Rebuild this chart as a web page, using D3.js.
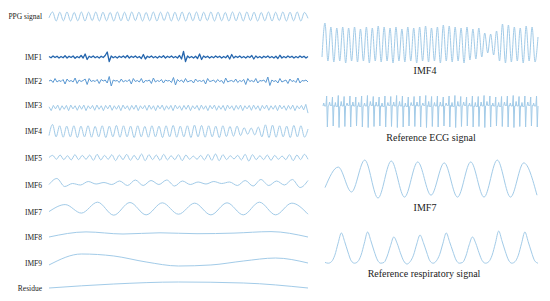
<!DOCTYPE html>
<html lang="en">
<head>
<meta charset="UTF-8">
<title>PPG decomposition and reference signals</title>
<script src="https://d3js.org/d3.v7.min.js"></script>
<style>
  body { margin: 0; background: #fff; }
  svg { display: block; }
  .lbl { font-family: "Liberation Serif", "Times New Roman", serif; fill: #222; }
</style>
</head>
<body>
<script>
  // ---- signal values (normalised units) ----
  const ppg = [-0.3, 1, -1, 0.95, -0.95, 1, -1, 0.9, -0.95, 1, -1, 0.95, -0.9, 1, -1, 0.95, -0.95, 0.9,
    -1, 1, -0.95, 0.95, -1, 1, -0.9, 0.95, -1, 0.9, -0.95, 1, -1, 0.95, -0.9, 1, -1, 0.95, -0.95, 1,
    -1, 0.9, -0.95, 1, -1, 0.95, -0.9, 1, -1, 0.95, -0.95, 0.9, -1, 1, -0.95, 0.95, -1, 1, -0.9, 0.95,
    -1, 0.9, -0.95, 1, -1, 0.95, -0.9, 1, -1, 0.95, -0.95, 1, -1, 0.9, -0.4];

  const imf1 = [0.1, -0.15, 0.2, -0.1, 0.15, -0.2, 0.1, -0.15, 0.25, -0.2,
    0.15, -0.1, 0.2, -0.25, 0.1, -0.15, 0.3, -0.2, 0.6, -0.5,
    0.15, -0.1, 0.2, -0.15, 0.1, -0.2, 0.15, -0.1, 0.3, 1.0,
    -0.9, 0.2, -0.15, 0.1, -0.2, 0.15, -0.1, 0.2, -0.15, 0.3,
    -0.2, 0.15, -0.1, 0.2, -0.15, 0.1, -0.3, 0.5, -0.4, 0.15,
    -0.1, 0.2, -0.15, 0.1, -0.2, 0.15, -0.1, 0.25, -0.2, 0.15,
    -0.1, 0.2, -0.15, 0.1, -0.2, 0.3, -0.4, 1.1, -0.9, 0.2,
    -0.15, 0.1, -0.2, 0.15, -0.3, 0.6, -0.5, 0.2, -0.1, 0.15,
    -0.2, 0.1, -0.15, 0.2, -0.1, 0.15, -0.2, 0.1, -0.15, 0.3,
    -0.4, 0.5, -0.2, 0.15, -0.1, 0.2, -0.15, 0.1, -0.2, 0.15,
    -0.1, 0.3, -0.4, 0.2, -0.15, 0.1, -0.2, 0.15, -0.1, 0.2,
    -0.15, 0.1, -0.2, 0.15, -0.3, 0.35, -0.2, 0.1, -0.15, 0.2,
    -0.1, 0.15, -0.2, 0.1, -0.15, 0.2, -0.1, 0.15, -0.2, 0.1];

  const imf2 = [0.0, 0.2, -0.3, 0.5, -0.2, 0.1, -0.1, 0.3, -0.6, 0.4,
    -0.1, 0.1, -0.2, 0.6, -0.5, 0.2, -0.1, 0.1, 0.4, -0.7,
    0.5, -0.1, 0.1, -0.1, 0.3, -0.5, 0.3, 0.0, 0.2, -0.4,
    0.9, -1.0, 0.2, 0.0, 0.1, -0.3, 0.4, -0.2, 0.1, -0.1,
    0.3, -0.6, 0.5, -0.1, 0.1, -0.2, 0.5, -0.4, 0.1, 0.0,
    0.2, -0.5, 0.6, -0.2, 0.1, -0.1, 0.3, -0.4, 0.2, 0.0,
    0.1, -0.3, 0.7, -0.8, 0.3, -0.1, 0.2, -0.3, 0.5, -0.2,
    0.0, 0.1, -0.4, 0.4, -0.1, 0.1, -0.1, 0.2, -0.6, 0.5,
    -0.1, 0.0, 0.2, -0.3, 0.3, -0.1, 0.1, -0.5, 0.6, -0.2,
    0.0, 0.1, -0.2, 0.4, -0.3, 0.1, -0.1, 0.3, -0.7, 0.5,
    -0.1, 0.1, -0.2, 0.5, -0.4, 0.1, 0.0, 0.2, -0.3, 0.8,
    -0.9, 0.2, -0.1, 0.1, -0.4, 0.5, -0.2, 0.0, 0.2, -0.5,
    0.4, -0.1, 0.1, -0.3, 0.6, -0.4, 0.1, 0.0, 0.2, -0.2];

  const imf3 = [0.2, -0.9, 0.6, -0.4, 0.7, -0.8, 0.5, -0.5, 0.6, -0.9, 0.7, -0.4, 0.5, -0.8, 0.6, -0.5, 0.7, -0.9, 0.5, -0.4,
    0.6, -0.8, 0.7, -0.5, 0.5, -0.9, 0.6, -0.4, 0.7, -0.8, 0.5, -0.5, 0.6, -0.9, 0.7, -0.4, 0.5, -0.8, 0.6, -0.5,
    0.7, -0.9, 0.5, -0.4, 0.6, -0.8, 0.7, -0.5, 0.5, -0.9, 0.6, -0.4, 0.7, -0.8, 0.5, -0.5, 0.6, -0.9, 0.7, -0.4,
    0.5, -0.8, 0.6, -0.5, 0.7, -0.9, 0.5, -0.4, 0.6, -0.8, 0.7, -0.5, 0.5, -0.9, 0.6, -0.4, 0.7, -0.8, 0.5, -0.5,
    0.6, -0.9, 0.7, -0.4, 0.5, -0.8, 0.6, -0.5, 0.7, -0.9, 0.5, -0.4, 0.6, -0.8, 0.7, -0.5, 0.5, -0.9, 0.6, -0.4,
    0.7, -0.8, 0.5, -0.5, 0.6, -0.9, 0.7, -0.4, 0.5, -0.8, 0.6, -0.5, 0.7, -0.9, 0.5, -0.4, 0.6, -0.7, 0.9, -1.6];

  const imf4 = [-0.7, 1.0, -0.9, 0.8, -0.95, 0.75, -0.9, 0.8, -1.0, 0.75,
    -0.9, 0.8, -0.95, 0.7, -0.9, 0.8, -1.0, 0.75, -0.9, 0.85,
    -0.95, 0.8, -0.9, 0.75, -1.0, 0.8, -0.9, 0.7, -0.95, 0.8,
    -0.9, 0.75, -1.0, 0.8, -0.9, 0.85, -0.95, 0.75, -0.9, 0.8,
    -1.0, 0.9, -0.9, 0.85, -0.95, 0.8, -0.9, 0.75, -1.0, 0.8,
    -0.85, 0.7, -0.8, 0.75, -0.7, 0.5, -0.5, 0.45, -0.6, 0.6,
    -0.9, 0.95, -1.0, 0.9, -0.95, 0.8, -0.9, 0.75, -1.0, 0.85,
    -0.9, 0.8, -0.95, 0.3];

  const imf5 = [0, 0.6, -0.5, 0.7, -0.6, 0.5, -0.7, 0.8, -0.6, 0.6, -0.5, 0.7, -0.8, 0.9, -0.7, 0.6, -0.5, 0.8,
    -0.9, 0.7, -0.6, 0.9, -0.8, 0.6, -0.7, 1.0, -0.9, 0.8, -0.6, 0.7, -0.8, 0.9, -0.7, 0.5, -0.6, 0.8,
    -0.9, 0.7, -0.5, 0.4, -0.5, 0.6, -0.7, 0.9, -0.8, 1.0, -0.9, 0.8, -0.6, 0.5, -0.4, 0.6, -0.7, 0.9,
    -1.0, 0.8, -0.6, 0.5, -0.6, 0.7, -0.8, 0.6, -0.5, 0.4, -0.6, 0.8, -0.9, 0.7, -0.6, 0.9, -0.5];

  const imf6 = [-0.3, 0.9, -0.7, -0.1, -0.4, 0.3, -0.2, 0.1, -0.3, 0.4, -0.5, 0.6, -0.5, 0.5, -0.3, 0.6, -0.6,
    0.4, -0.3, 0.2, -0.2, 0.3, -0.1, 0.2, -0.5, 0.5, -0.6, 0.7, -0.5, 0.4, -0.4, 0.7, -0.9, 0.5];

  const imf7 = [-0.4, 0.68, -0.63, 1.05, -0.95, 1.0, -0.9, 0.95, -0.8, 0.9, -0.9, 0.95, -0.9, 1.05, -0.9, 0.9, -0.8];

  const imf8 = [-1, 0.7, 0.0, 0.4, 0.1, 0.3, 0.8, -1];

  const imf9 = [-0.83, 1.0, 0.67, -0.33, -1.0, -0.83, -0.17, 0.33, -0.5];

  const residue = [-1, 0.33, 1, 0.67, -1];

  // reference ECG, one entry per beat: baseline level, T bump, R peak, S trough
  const ecgBase = [0.0, 0.05, -0.05, 0.0, 0.05, 0.0, -0.05, 0.0, 0.05, 0.0, -0.05, 0.05, 0.0, 0.0, -0.05, 0.05, 0.0,
    0.05, -0.05, 0.0, 0.0, 0.05, -0.05, 0.0, 0.05, 0.0, -0.05, 0.0, 0.05, 0.0, -0.05, 0.05, 0.0, 0.0, -0.05, 0.05, 0.0];
  const ecgT = [0.3, 0.4, 0.35, 0.45, 0.3, 0.4, 0.35, 0.3, 0.45, 0.4, 0.3, 0.35, 0.4, 0.45, 0.3, 0.35, 0.4, 0.3, 0.45,
    0.35, 0.4, 0.3, 0.35, 0.45, 0.4, 0.3, 0.35, 0.4, 0.45, 0.3, 0.35, 0.4, 0.3, 0.45, 0.35, 0.4, 0.3];
  const ecgR = [1.0, 0.9, 1.05, 0.95, 1.0, 0.9, 1.0, 1.05, 0.95, 0.9, 1.0, 0.95, 1.05, 1.0, 0.9, 0.95, 1.0, 1.05, 0.95,
    1.0, 0.9, 1.0, 1.05, 0.95, 0.9, 1.0, 0.95, 1.05, 1.0, 0.9, 0.95, 1.0, 1.05, 0.95, 1.0, 0.9, 1.0];
  const ecgS = [-2.1, -2.0, -2.15, -2.05, -2.1, -2.0, -2.1, -2.15, -2.05, -2.0, -2.1, -2.05, -2.15, -2.1, -2.0, -2.05,
    -2.1, -2.15, -2.05, -2.1, -2.0, -2.1, -2.15, -2.05, -2.0, -2.1, -2.05, -2.15, -2.1, -2.0, -2.05, -2.1, -2.15,
    -2.05, -2.1, -2.0, -2.1];

  const resp = [-0.9, -0.95, -0.85, -0.45, 0.3,
    0.94, 0.4, -0.25, -0.8, -0.95, -0.85, -0.45, 0.3,
    1.0, 0.45, -0.2, -0.75, -0.95, -0.9, -0.5, 0.15,
    0.69, 0.3, -0.3, -0.8, -1.0, -0.85, -0.45, 0.25,
    0.81, 0.35, -0.25, -0.8, -0.95, -0.8, -0.4, 0.3,
    0.94, 0.4, -0.2, -0.75, -0.95, -0.9, -0.5, 0.2,
    0.69, 0.3, -0.3, -0.8, -0.95, -0.85, -0.45, 0.3,
    1.06, 0.45, -0.2, -0.75, -0.95, -0.85, -0.45, 0.3,
    1.0, 0.4, -0.25, -0.8, -0.95];

  // ECG samples laid out beat by beat
  const ecg = d3.range(ecgR.length).flatMap(i =>
    [ecgBase[i], ecgT[i], ecgBase[i], ecgBase[i], ecgBase[i], ecgR[i], ecgS[i], ecgBase[i]]);

  // ---- layout ----
  const W = 550, H = 301;
  const light = '#a2cbe8';

  const svg = d3.select('body').append('svg')
    .attr('width', W)
    .attr('height', H);

  function drawSignal(values, x0, x1, yc, amp, color, width, curve) {
    const x = d3.scaleLinear().domain([0, values.length - 1]).range([x0, x1]);
    const y = d3.scaleLinear().domain([-1, 1]).range([yc + amp, yc - amp]);
    const line = d3.line()
      .x((d, i) => x(i))
      .y(d => y(d))
      .curve(curve);
    svg.append('path')
      .datum(values)
      .attr('d', line)
      .attr('fill', 'none')
      .attr('stroke', color)
      .attr('stroke-width', width)
      .attr('stroke-linejoin', 'round');
  }

  // left column: PPG and its decomposition
  const leftRows = [
    { label: 'PPG signal', data: ppg,     yc: 16.5, amp: 4.5, ly: 16 },
    { label: 'IMF1',       data: imf1,    yc: 57,   amp: 5,   ly: 57, color: '#2566ae', width: 1.3, curve: d3.curveLinear },
    { label: 'IMF2',       data: imf2,    yc: 81,   amp: 5,   ly: 81, color: '#5a98d2', curve: d3.curveLinear },
    { label: 'IMF3',       data: imf3,    yc: 107.5, amp: 3.5, ly: 105, curve: d3.curveLinear },
    { label: 'IMF4',       data: imf4,    yc: 131,  amp: 6.5, ly: 131 },
    { label: 'IMF5',       data: imf5,    yc: 157.5, amp: 3.5, ly: 158 },
    { label: 'IMF6',       data: imf6,    yc: 183,  amp: 5,   ly: 185 },
    { label: 'IMF7',       data: imf7,    yc: 209,  amp: 6.5, ly: 212 },
    { label: 'IMF8',       data: imf8,    yc: 234,  amp: 3,   ly: 237 },
    { label: 'IMF9',       data: imf9,    yc: 260,  amp: 6,   ly: 263 },
    { label: 'Residue',    data: residue, yc: 285,  amp: 3,   ly: 288 }
  ];

  leftRows.forEach(r => {
    drawSignal(r.data, 49, 308, r.yc, r.amp, r.color || light, r.width || 1, r.curve || d3.curveMonotoneX);
    svg.append('text')
      .attr('class', 'lbl')
      .attr('x', 42)
      .attr('y', r.ly)
      .attr('dy', '0.35em')
      .attr('text-anchor', 'end')
      .style('font-size', '7.5px')
      .text(r.label);
  });

  // right column: zoomed components and reference signals
  const rightRows = [
    { label: 'IMF4', data: imf4, x0: 322, x1: 538, yc: 43,  amp: 20, ly: 70,  lx: 425 },
    { label: 'Reference ECG signal', data: ecg, x0: 323, x1: 538, yc: 106, amp: 10, ly: 137, lx: 431, curve: d3.curveLinear },
    { label: 'IMF7', data: imf7, x0: 325, x1: 537, yc: 180, amp: 19, ly: 207, lx: 425 },
    { label: 'Reference respiratory signal', data: resp, x0: 325, x1: 538, yc: 248, amp: 16, ly: 273, lx: 424 }
  ];

  rightRows.forEach(r => {
    drawSignal(r.data, r.x0, r.x1, r.yc, r.amp, light, 1, r.curve || d3.curveMonotoneX);
    svg.append('text')
      .attr('class', 'lbl')
      .attr('x', r.lx)
      .attr('y', r.ly)
      .attr('dy', '0.35em')
      .attr('text-anchor', 'middle')
      .style('font-size', '10px')
      .text(r.label);
  });
</script>
</body>
</html>
